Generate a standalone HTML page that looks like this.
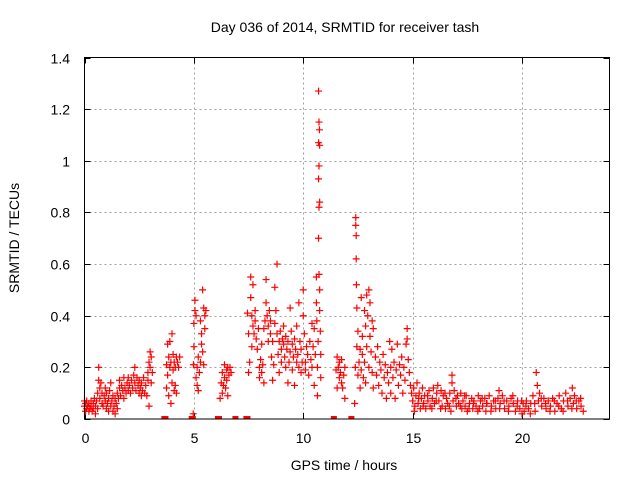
<!DOCTYPE html>
<html><head><meta charset="utf-8"><style>
html,body{margin:0;padding:0;background:#fff;}
svg{display:block;font-family:"Liberation Sans",sans-serif;}
</style></head><body>
<svg id="chart" width="640" height="480" viewBox="0 0 640 480" xmlns="http://www.w3.org/2000/svg">
<rect width="640" height="480" fill="#fff"/>
<text x="345" y="32" font-size="14" text-anchor="middle" fill="#000">Day 036 of 2014, SRMTID for receiver tash</text>
<text x="344" y="470" font-size="14" text-anchor="middle" fill="#000">GPS time / hours</text>
<text transform="translate(19,238) rotate(-90)" font-size="14" text-anchor="middle" fill="#000">SRMTID / TECUs</text>
<g id="grid"></g><g id="ticks"></g><g id="marks"></g>
<rect x="84.5" y="57.5" width="525" height="361.5" fill="none" stroke="#000" stroke-width="1"/>
</svg>
<script>
const xTicks=[0,5,10,15,20];
const yTicks=[0,0.2,0.4,0.6,0.8,1,1.2,1.4];
const yTickLabels=["0","0.2","0.4","0.6","0.8","1","1.2","1.4"];
const zeroHours=[3.65,3.7,4.9,4.95,6.1,6.15,6.9,7.4,7.45,11.4,12.2];
const samples=[
[0,0.05],[0,0.07],[0.05,0.03],[0.05,0.06],[0.1,0.04],[0.1,0.07],[0.15,0.05],[0.2,0.03],[0.2,0.06],[0.25,0.04],[0.3,0.07],[0.3,0.05],[0.35,0.03],[0.4,0.06],[0.4,0.04],[0.45,0.08],[0.5,0.05],[0.5,0.02],[0.55,0.07],[0.6,0.04],[0.6,0.1],[0.65,0.15],[0.65,0.2],[0.7,0.12],[0.7,0.08],[0.75,0.14],[0.8,0.06],[0.8,0.1],[0.85,0.05],[0.9,0.09],[0.95,0.12],[0.95,0.07],[1.0,0.04],[1.0,0.1],[1.05,0.06],[1.1,0.08],[1.1,0.03],[1.15,0.11],[1.2,0.05],[1.2,0.14],[1.25,0.07],[1.3,0.03],[1.3,0.09],[1.35,0.05],[1.4,0.02],[1.4,0.08],[1.45,0.06],[1.5,0.1],[1.5,0.04],[1.55,0.08],[1.6,0.12],[1.6,0.15],[1.65,0.09],[1.7,0.13],[1.75,0.11],[1.8,0.08],[1.8,0.16],[1.85,0.12],[1.9,0.1],[1.95,0.14],[2.0,0.11],[2.0,0.16],[2.05,0.13],[2.1,0.1],[2.15,0.15],[2.2,0.12],[2.25,0.17],[2.3,0.14],[2.3,0.2],[2.35,0.11],[2.4,0.16],[2.45,0.13],[2.5,0.1],[2.5,0.15],[2.55,0.12],[2.6,0.09],[2.6,0.14],[2.65,0.11],[2.7,0.16],[2.75,0.1],[2.8,0.13],[2.85,0.09],[2.9,0.15],[2.9,0.18],[2.95,0.22],[2.95,0.05],[3.0,0.26],[3.0,0.2],[3.05,0.24],[3.05,0.14],[3.1,0.18],
[3.75,0.21],[3.75,0.12],[3.8,0.29],[3.8,0.17],[3.85,0.24],[3.85,0.09],[3.9,0.3],[3.9,0.2],[3.95,0.22],[3.95,0.06],[4.0,0.33],[4.0,0.14],[4.05,0.25],[4.05,0.19],[4.1,0.22],[4.1,0.11],[4.15,0.2],[4.15,0.13],[4.2,0.24],[4.2,0.1],[4.25,0.22],[4.3,0.2],[4.35,0.24],
[4.97,0.02],[4.98,0.21],[5.0,0.37],[5.0,0.28],[5.05,0.46],[5.05,0.42],[5.1,0.4],[5.1,0.16],[5.15,0.13],[5.15,0.2],[5.2,0.11],[5.2,0.24],[5.25,0.18],[5.3,0.38],[5.3,0.22],[5.35,0.33],[5.35,0.29],[5.4,0.5],[5.4,0.26],[5.45,0.43],[5.45,0.21],[5.5,0.4],[5.5,0.35],[5.55,0.42],
[6.2,0.08],[6.25,0.14],[6.3,0.1],[6.3,0.18],[6.35,0.13],[6.4,0.21],[6.4,0.16],[6.45,0.12],[6.5,0.19],[6.5,0.15],[6.55,0.2],[6.55,0.09],[6.6,0.17],[6.65,0.2],[6.7,0.18],
[7.45,0.41],[7.5,0.18],[7.5,0.33],[7.55,0.22],[7.6,0.55],[7.6,0.47],[7.65,0.4],[7.65,0.28],[7.7,0.52],[7.7,0.36],[7.75,0.33],[7.8,0.38],[7.8,0.42],[7.85,0.31],[7.9,0.27],[7.95,0.35],[8.0,0.2],[8.0,0.16],[8.05,0.23],[8.1,0.18],[8.1,0.29],[8.15,0.21],[8.2,0.14],[8.2,0.35],[8.25,0.38],[8.3,0.54],[8.3,0.45],[8.35,0.4],[8.4,0.36],[8.4,0.3],[8.45,0.42],[8.5,0.38],[8.5,0.33],[8.55,0.24],[8.6,0.3],[8.6,0.15],[8.65,0.21],[8.7,0.51],[8.7,0.37],[8.75,0.42],[8.8,0.6],[8.8,0.33],[8.85,0.25],[8.9,0.18],[8.9,0.3],[8.95,0.34],[9.0,0.27],[9.0,0.22],[9.05,0.31],[9.1,0.29],[9.1,0.36],[9.15,0.24],[9.2,0.2],[9.2,0.32],[9.25,0.27],[9.3,0.14],[9.3,0.3],[9.35,0.22],[9.4,0.43],[9.4,0.26],[9.45,0.34],[9.5,0.19],[9.5,0.29],[9.55,0.24],[9.6,0.13],[9.6,0.31],[9.65,0.27],[9.7,0.22],[9.7,0.36],[9.75,0.25],[9.8,0.2],[9.8,0.45],[9.85,0.3],[9.9,0.18],[9.9,0.27],[9.95,0.22],[10.0,0.5],[10.0,0.4],[10.05,0.33],[10.1,0.22],[10.1,0.19],[10.15,0.28],[10.2,0.25],[10.25,0.17],[10.3,0.3],[10.35,0.23],[10.4,0.37],[10.4,0.2],[10.45,0.28],[10.5,0.13],[10.5,0.35],[10.55,0.25],[10.6,0.55],[10.6,0.45],[10.62,0.38],[10.65,0.2],[10.65,0.09],[10.68,0.3],
[10.7,1.27],[10.72,1.15],[10.74,1.12],[10.7,1.07],[10.75,1.06],[10.72,0.98],[10.7,0.93],[10.75,0.84],[10.72,0.82],[10.7,0.7],[10.72,0.56],[10.75,0.5],[10.75,0.42],[10.78,0.34],[10.8,0.25],[10.8,0.16],
[11.5,0.19],[11.55,0.24],[11.55,0.12],[11.6,0.2],[11.65,0.16],[11.65,0.22],[11.7,0.18],[11.75,0.14],[11.75,0.23],[11.8,0.12],[11.85,0.17],[11.9,0.08],[11.9,0.2],
[12.35,0.06],[12.38,0.2],[12.4,0.78],[12.4,0.75],[12.42,0.71],[12.42,0.62],[12.43,0.52],[12.45,0.43],[12.45,0.28],[12.5,0.34],[12.5,0.17],[12.55,0.22],[12.6,0.27],[12.6,0.12],[12.65,0.47],[12.65,0.19],[12.7,0.32],[12.7,0.25],[12.75,0.16],[12.8,0.42],[12.8,0.22],[12.85,0.36],[12.85,0.14],[12.9,0.48],[12.9,0.28],[12.95,0.4],[13.0,0.5],[13.0,0.2],[13.05,0.45],[13.05,0.32],[13.1,0.26],[13.15,0.38],[13.15,0.18],[13.2,0.35],[13.2,0.12],
[13.3,0.24],[13.35,0.17],[13.4,0.28],[13.45,0.13],[13.5,0.22],[13.55,0.19],[13.6,0.1],[13.65,0.25],[13.7,0.16],[13.75,0.21],[13.8,0.08],[13.85,0.18],[13.9,0.14],[13.95,0.3],[14.0,0.2],[14.0,0.1],[14.05,0.27],[14.1,0.16],[14.15,0.22],[14.2,0.08],[14.25,0.19],[14.3,0.29],[14.35,0.13],[14.4,0.21],[14.45,0.17],[14.5,0.24],[14.55,0.1],[14.6,0.2],[14.65,0.15],[14.7,0.29],[14.75,0.35],[14.75,0.31],[14.8,0.23],[14.85,0.18],[14.9,0.13],[14.95,0.1],
[15.0,0.07],[15.05,0.12],[15.1,0.05],[15.15,0.09],[15.2,0.14],[15.25,0.06],[15.3,0.1],[15.35,0.04],[15.4,0.08],[15.45,0.12],[15.5,0.06],[15.55,0.09],[15.6,0.04],[15.7,0.07],[15.75,0.11],[15.8,0.05],[15.9,0.08],[15.95,0.12],[16.0,0.06],[16.1,0.1],[16.15,0.13],[16.2,0.07],[16.3,0.11],[16.35,0.05],[16.4,0.09],[16.5,0.04],[16.55,0.08],[16.6,0.06],[16.7,0.1],[16.75,0.03],[16.8,0.17],[16.8,0.14],[16.85,0.07],[16.9,0.11],[17.0,0.05],[17.05,0.09],[17.1,0.06],[17.2,0.1],[17.25,0.04],[17.3,0.07],[17.4,0.05],[17.45,0.09],[17.5,0.03],[17.6,0.06],[17.7,0.08],[17.75,0.04],[17.8,0.07],[17.9,0.05],[18.0,0.09],[18.05,0.04],[18.1,0.07],[18.2,0.05],[18.3,0.08],[18.35,0.03],[18.4,0.06],[18.5,0.09],[18.6,0.05],[18.7,0.07],[18.8,0.04],[18.9,0.08],[18.95,0.11],[19.0,0.06],[19.1,0.09],[19.2,0.04],[19.3,0.07],[19.4,0.05],[19.5,0.08],[19.6,0.06],[19.7,0.03],[19.8,0.07],[19.9,0.04],[20.0,0.02],[20.05,0.06],[20.1,0.03],[20.2,0.07],[20.3,0.04],[20.4,0.06],[20.5,0.09],[20.6,0.03],[20.65,0.18],[20.7,0.13],[20.75,0.07],[20.8,0.1],[20.9,0.05],[21.0,0.08],[21.1,0.04],[21.2,0.07],[21.3,0.05],[21.4,0.08],[21.5,0.03],[21.6,0.06],[21.7,0.09],[21.8,0.04],[21.9,0.07],[22.0,0.1],[22.1,0.05],[22.2,0.08],[22.3,0.12],[22.35,0.06],[22.4,0.09],[22.5,0.04],[22.6,0.07],[22.7,0.05],[22.8,0.03],
[15.08,0.03],[15.28,0.08],[15.48,0.05],[15.68,0.09],[15.88,0.04],[16.08,0.07],[16.28,0.04],[16.48,0.1],[16.68,0.05],[16.98,0.08],[17.18,0.05],[17.38,0.09],[17.58,0.04],[17.78,0.06],[17.98,0.03],[18.18,0.08],[18.38,0.06],[18.58,0.03],[18.78,0.07],[18.98,0.04],[19.18,0.07],[19.38,0.03],[19.58,0.09],[19.78,0.05],[19.98,0.07],[20.18,0.05],[20.38,0.02],[20.58,0.06],[20.88,0.08],[21.08,0.06],[21.28,0.03],[21.48,0.07],[21.68,0.05],[21.88,0.03],[22.08,0.07],[22.28,0.04],[22.48,0.07],[22.68,0.08]
];
const NS="http://www.w3.org/2000/svg";
const X0=84.5,X1=609.5,XMAX=24,Y0=419,Y1=57.5,YMAX=1.4;
function xs(h){return X0+(X1-X0)*h/XMAX;}
function ys(v){return Y0-(Y0-Y1)*v/YMAX;}
function mk(tag,attrs,parent){const e=document.createElementNS(NS,tag);for(const k in attrs)e.setAttribute(k,attrs[k]);parent.appendChild(e);return e;}
const grid=document.getElementById('grid'),ticks=document.getElementById('ticks'),marks=document.getElementById('marks');
xTicks.forEach(t=>{
  const x=Math.round(xs(t))+0.5;
  if(t>0){const g=mk('line',{x1:x,x2:x,y1:Y1,y2:Y0,stroke:'#a0a0a0','stroke-dasharray':'2,3'},grid);
  
  }
  mk('line',{x1:x,x2:x,y1:Y0,y2:Y0-6,stroke:'#000'},ticks);
  mk('line',{x1:x,x2:x,y1:Y1,y2:Y1+6,stroke:'#000'},ticks);
  const l=mk('text',{x:x,y:443,'font-size':14,'text-anchor':'middle',fill:'#000'},ticks);
  l.textContent=String(t);
  
  
});
yTicks.forEach((t,i)=>{
  const y=Math.round(ys(t))+0.5;
  if(t>0&&t<1.4){const g=mk('line',{x1:X0,x2:X1,y1:y,y2:y,stroke:'#a0a0a0','stroke-dasharray':'2,3'},grid);
  
  }
  mk('line',{x1:X0,x2:X0+6,y1:y,y2:y,stroke:'#000'},ticks);
  mk('line',{x1:X1-6,x2:X1,y1:y,y2:y,stroke:'#000'},ticks);
  const l=mk('text',{x:70,y:y+5,'font-size':14,'text-anchor':'end',fill:'#000'},ticks);
  l.textContent=yTickLabels[i];
  
  
});
let d='';
samples.forEach(p=>{const x=xs(p[0]),y=ys(p[1]);d+='M'+(x-3.5)+' '+y+'h7M'+x+' '+(y-3.5)+'v7';});
const pts=mk('path',{d:d,stroke:'#ff0000','stroke-width':1.2,fill:'none'},marks);


let z='';
zeroHours.forEach(h=>{const x=xs(h);z+='M'+(x-3)+' '+(Y0-3)+'h6v3h-6z';});
const zp=mk('path',{d:z,fill:'#ff0000'},marks);


</script>
</body></html>
